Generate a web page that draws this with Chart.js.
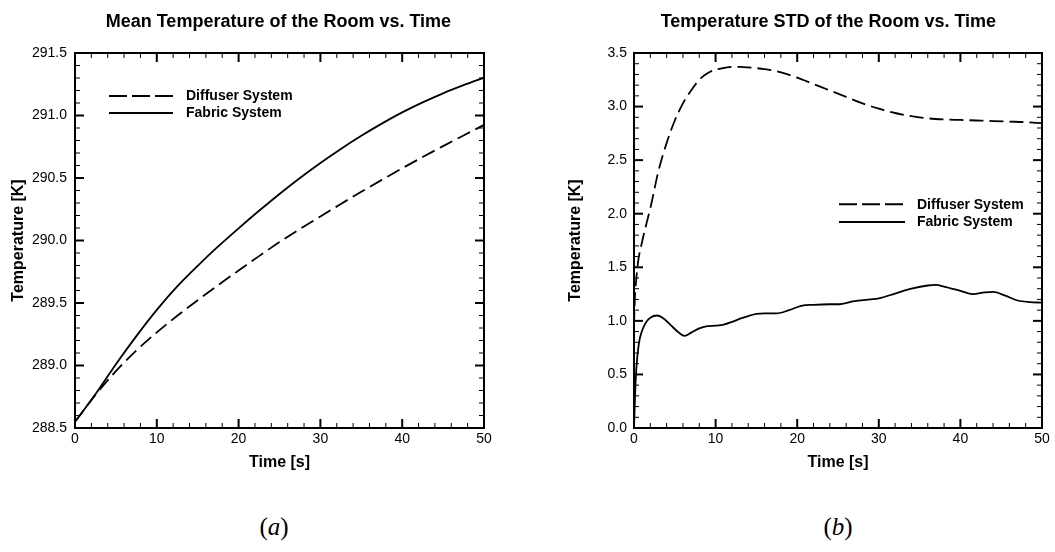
<!DOCTYPE html>
<html><head><meta charset="utf-8">
<script src="https://cdn.jsdelivr.net/npm/chart.js@4.4.1/dist/chart.umd.min.js"></script>
<style>
html,body{margin:0;padding:0;background:#fff;}
body{width:1055px;height:552px;position:relative;overflow:hidden;}
canvas{position:absolute;top:0;}
#c1{left:0}
#c2{left:527px}
.sub{position:absolute;top:527px;transform:translate(-50%,-50%);font-family:"Liberation Serif","DejaVu Serif",serif;font-size:25px;color:#000;white-space:nowrap;}
.sub i{font-style:italic;}
</style></head><body>
<canvas id="c1" width="527" height="480"></canvas>
<canvas id="c2" width="528" height="480"></canvas>
<div class="sub" style="left:274px">(<i>a</i>)</div>
<div class="sub" style="left:838px">(<i>b</i>)</div>
<script>
// ---------- data ----------
const seriesNames = ['Diffuser System', 'Fabric System'];
const chartTitles = ['Mean Temperature of the Room vs. Time', 'Temperature STD of the Room vs. Time'];
const xAxisTitle = 'Time [s]';
const yAxisTitle = 'Temperature [K]';

const meanTime     = [0, 2.5, 5, 7.5, 10, 12.5, 15, 17.5, 20, 22.5, 25, 27.5, 30, 32.5, 35, 37.5, 40, 42.5, 45, 47.5, 50];
const meanDiffuser = [288.55, 288.765, 288.955, 289.12, 289.265, 289.3975, 289.5225, 289.6425, 289.76, 289.875, 289.9875, 290.0925, 290.1925, 290.2925, 290.39, 290.485, 290.5775, 290.6675, 290.755, 290.84, 290.925];
const meanFabric   = [288.55, 288.77, 289.01, 289.235, 289.445, 289.6325, 289.7975, 289.9525, 290.0975, 290.2375, 290.3725, 290.5, 290.62, 290.7325, 290.8375, 290.935, 291.025, 291.105, 291.1775, 291.2425, 291.3025];

const stdTimeDiffuser = [0, 0.1, 0.2, 0.5, 1, 1.5, 2, 3, 4, 5, 6, 7, 8, 9, 10, 11, 12, 13, 14, 16, 18, 20, 22, 24, 26, 28, 30, 32, 34, 36, 38, 40, 42, 44, 46, 48, 50];
const stdDiffuser     = [0.95, 1.2, 1.32, 1.55, 1.74, 1.9, 2.05, 2.4, 2.66, 2.87, 3.03, 3.15, 3.25, 3.31, 3.345, 3.36, 3.37, 3.37, 3.365, 3.35, 3.32, 3.27, 3.21, 3.15, 3.09, 3.03, 2.98, 2.94, 2.91, 2.89, 2.88, 2.875, 2.87, 2.865, 2.86, 2.855, 2.845];

const stdTimeFabric = [0, 0.15, 0.3, 0.6, 1, 1.5, 2, 2.8, 3.5, 4.5, 5.5, 6.2, 7, 8, 9, 10, 11, 12, 13, 14, 15, 16, 17.5, 19, 20.5, 22, 24, 25, 27, 29, 30, 32, 34, 36, 37, 38, 40, 41.5, 43, 44, 45.5, 47, 48.5, 50];
const stdFabric     = [0.0, 0.35, 0.57, 0.79, 0.91, 0.99, 1.03, 1.05, 1.03, 0.96, 0.89, 0.86, 0.89, 0.93, 0.95, 0.955, 0.965, 0.99, 1.02, 1.045, 1.065, 1.07, 1.07, 1.1, 1.14, 1.15, 1.155, 1.155, 1.185, 1.2, 1.21, 1.255, 1.3, 1.33, 1.335, 1.32, 1.28, 1.25, 1.265, 1.27, 1.235, 1.19, 1.175, 1.17];

// ---------- helpers ----------
const FAMILY = '"Liberation Sans", Arial, sans-serif';
Chart.defaults.color = '#000';
Chart.defaults.font.family = FAMILY;

const pts = (xs, ys) => xs.map((x, i) => ({x: x, y: ys[i]}));

const framePlugin = {
  id: 'frame',
  afterDatasetsDraw(chart, args, o) {
    const {ctx, chartArea: a, scales: {x, y}} = chart;
    ctx.save();
    ctx.strokeStyle = '#000';
    ctx.lineCap = 'butt';
    const seg = (x1, y1, x2, y2, w) => { ctx.lineWidth = w; ctx.beginPath(); ctx.moveTo(x1, y1); ctx.lineTo(x2, y2); ctx.stroke(); };
    const isMajor = (v, min, step) => { const r = (v - min) / step; return Math.abs(r - Math.round(r)) < 1e-6; };
    const nx = Math.round((x.max - x.min) / o.xMinor);
    for (let i = 0; i <= nx; i++) {
      const v = x.min + i * o.xMinor;
      const m = isMajor(v, x.min, o.xMajor);
      const L = m ? 9 : 5, w = m ? 2 : 1;
      const p = x.getPixelForValue(v);
      seg(p, a.bottom, p, a.bottom - L, w);
      seg(p, a.top, p, a.top + L, w);
    }
    const ny = Math.round((y.max - y.min) / o.yMinor);
    for (let i = 0; i <= ny; i++) {
      const v = y.min + i * o.yMinor;
      const m = isMajor(v, y.min, o.yMajor);
      const L = m ? 9 : 5, w = m ? 2 : 1;
      const p = y.getPixelForValue(v);
      seg(a.left, p, a.left + L, p, w);
      seg(a.right, p, a.right - L, p, w);
    }
    ctx.lineWidth = 2;
    ctx.strokeRect(a.left, a.top, a.right - a.left, a.bottom - a.top);
    ctx.restore();
  }
};

const headPlugin = {
  id: 'head',
  afterDraw(chart, args, o) {
    const ctx = chart.ctx;
    ctx.save();
    ctx.fillStyle = '#000';
    ctx.font = 'bold 18px ' + FAMILY;
    ctx.textAlign = 'center';
    ctx.textBaseline = 'alphabetic';
    ctx.fillText(o.text, o.x, o.y);
    ctx.restore();
  }
};

const keyPlugin = {
  id: 'key',
  afterDraw(chart, args, o) {
    const {ctx, chartArea: a} = chart;
    ctx.save();
    chart.data.datasets.forEach((ds, i) => {
      const yy = a.top + o.y + i * o.dy;
      ctx.strokeStyle = '#000';
      ctx.lineWidth = 2;
      ctx.setLineDash(ds.borderDash && ds.borderDash.length ? o.dash : []);
      ctx.beginPath();
      ctx.moveTo(a.left + o.x1, yy);
      ctx.lineTo(a.left + o.x2, yy);
      ctx.stroke();
      ctx.setLineDash([]);
      ctx.fillStyle = '#000';
      ctx.font = 'bold 14px ' + FAMILY;
      ctx.textAlign = 'left';
      ctx.textBaseline = 'middle';
      ctx.fillText(ds.label, a.left + o.tx, yy + 0.5);
    });
    ctx.restore();
  }
};

function makeChart(id, datasets, cfg) {
  return new Chart(document.getElementById(id), {
    type: 'line',
    data: {datasets: datasets},
    plugins: [framePlugin, headPlugin, keyPlugin],
    options: {
      responsive: false,
      animation: false,
      events: [],
      layout: {padding: {left: 0, right: cfg.padRight, top: 53, bottom: 0}},
      elements: {point: {radius: 0}, line: {borderWidth: 1.8, cubicInterpolationMode: 'monotone'}},
      plugins: {
        legend: {display: false},
        tooltip: {enabled: false},
        title: {display: false},
        frame: {xMinor: 2, xMajor: 10, yMinor: cfg.yMinor, yMajor: cfg.yStep},
        head: {text: cfg.title, x: cfg.titleX, y: 27},
        key: cfg.key
      },
      scales: {
        x: {
          type: 'linear', min: 0, max: 50,
          grid: {display: false, drawTicks: false},
          border: {display: false},
          ticks: {stepSize: 10, padding: 3, color: '#000', maxRotation: 0, autoSkip: false, font: {family: FAMILY, size: 14}},
          title: {display: true, text: xAxisTitle, color: '#000', font: {family: FAMILY, size: 16, weight: 'bold'}, padding: {top: 0, bottom: 7.4}},
          afterFit(s) { s.height = 480 - 428; }
        },
        y: {
          type: 'linear', min: cfg.yMin, max: cfg.yMax,
          grid: {display: false, drawTicks: false},
          border: {display: false},
          ticks: {stepSize: cfg.yStep, padding: cfg.yPad, color: '#000', autoSkip: false, font: {family: FAMILY, size: 14},
                  callback: v => Number(v).toFixed(1)},
          title: {display: true, text: yAxisTitle, color: '#000', font: {family: FAMILY, size: 16, weight: 'bold'}, padding: {top: cfg.yTitlePad, bottom: cfg.yTitlePad}},
          afterFit(s) { s.width = cfg.yWidth; }
        }
      }
    }
  });
}

const lineStyle = (label, data, dashed) => ({
  label: label, data: data, borderColor: '#000', backgroundColor: '#000',
  borderWidth: 1.8, borderDash: dashed ? [14, 6] : [], fill: false, pointRadius: 0
});

makeChart('c1', [
  lineStyle(seriesNames[0], pts(meanTime, meanDiffuser), true),
  lineStyle(seriesNames[1], pts(meanTime, meanFabric), false)
], {
  title: chartTitles[0], titleX: 278.4, padRight: 527 - 484,
  yMin: 288.5, yMax: 291.5, yStep: 0.5, yMinor: 0.1, yPad: 8, yWidth: 75, yTitlePad: 9.4,
  key: {x1: 34, x2: 98, y: 43, dy: 17, tx: 111, dash: [18, 5]}
});

makeChart('c2', [
  lineStyle(seriesNames[0], pts(stdTimeDiffuser, stdDiffuser), true),
  lineStyle(seriesNames[1], pts(stdTimeFabric, stdFabric), false)
], {
  title: chartTitles[1], titleX: 301.4, padRight: 528 - 515,
  yMin: 0, yMax: 3.5, yStep: 0.5, yMinor: 0.1, yPad: 7, yWidth: 107, yTitlePad: 39.4,
  key: {x1: 205, x2: 271, y: 151.3, dy: 17.7, tx: 283, dash: [18, 5]}
});
</script>
</body></html>
